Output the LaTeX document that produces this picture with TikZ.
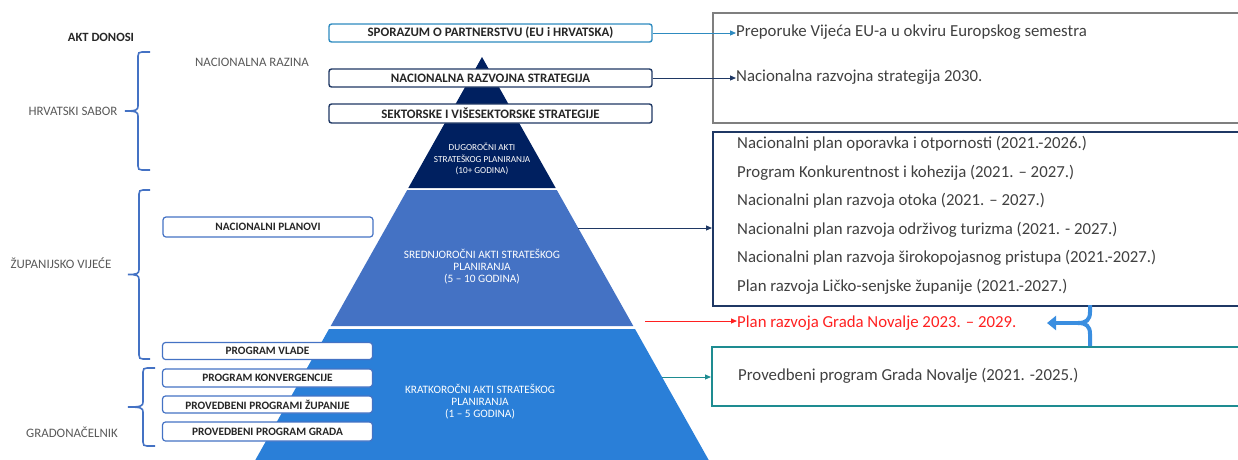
\documentclass[tikz,border=0pt]{standalone}
\usepackage{fontspec}
\setmainfont{Carlito}
\usetikzlibrary{arrows.meta}
\definecolor{tiertop}{HTML}{002060}
\definecolor{tiermid}{HTML}{4472C4}
\definecolor{tierbot}{HTML}{2A7FD8}
\definecolor{lblue}{HTML}{2E8BC0}
\definecolor{navyb}{HTML}{1F3864}
\definecolor{boxblue}{HTML}{4472C4}
\definecolor{grayb}{HTML}{7F7F7F}
\definecolor{tealb}{HTML}{1E8C91}
\definecolor{redt}{HTML}{FF2020}
\definecolor{curlyb}{HTML}{3A8EE0}
\definecolor{txt}{HTML}{404040}
\definecolor{lbl}{HTML}{595959}
% #1 end x, #2 vertical x, #3 tip x, #4 top y, #5 bottom y
\newcommand\drawbrace[5]{%
  \pgfmathsetmacro\bmid{(#4+#5)/2}%
  \draw[bracestyle] (#1,#4) -- ({#2+4},#4) .. controls ({#2+1},#4) and (#2,{#4+1}) .. (#2,{#4+4})
    -- (#2,{\bmid-5}) .. controls (#2,{\bmid-1}) and ({#2-2},\bmid) .. (#3,\bmid)
    .. controls ({#2-2},\bmid) and (#2,{\bmid+1}) .. (#2,{\bmid+5})
    -- (#2,{#5-4}) .. controls (#2,{#5-1}) and ({#2+1},#5) .. ({#2+4},#5) -- (#1,#5);}
\begin{document}
\begin{tikzpicture}[x=1pt,y=-1pt,
  topbox/.style={draw, rounded corners=2.5pt, fill=white, line width=1.4pt, minimum width=323pt, inner sep=0pt, text=black!85, font=\fontsize{12.9}{13}\selectfont\bfseries},
  leftbox/.style={draw=boxblue, rounded corners=3pt, fill=white, line width=1.2pt, minimum width=210pt, inner sep=0pt, text=black!85, font=\fontsize{11.3}{12}\selectfont\bfseries},
  sidelabel/.style={text=lbl, inner sep=0pt, font=\fontsize{12.9}{13}\selectfont},
  pyrtext/.style={text=white, align=center, inner sep=0pt},
  rtext/.style={anchor=west, text=txt, inner sep=0pt, font=\fontsize{16.8}{17}\selectfont},
  conn/.style={-{Triangle[length=6pt,width=5pt]}, line width=1pt},
  bracestyle/.style={draw=boxblue, line width=1.6pt},
  rbox/.style={draw, line width=1.8pt, anchor=north west, inner sep=0pt}
]
\useasboundingbox (0,0) rectangle (1238,459);
\clip (0,0) rectangle (1238,459);

% pyramid
\fill[tiertop] (482,57) -- (555.7,188) -- (408.3,188) -- cycle;
\fill[tiermid] (407.2,190) -- (556.8,190) -- (633.3,326) -- (330.7,326) -- cycle;
\fill[tierbot] (329,329) -- (635,329) -- (714.3,470) -- (249.7,470) -- cycle;
\coordinate (midR) at (578,228);
\coordinate (botR) at (662,377);
\coordinate (redS) at (645,321);

\node[pyrtext, font=\fontsize{9.2}{11.5}\selectfont] (ttop) at (482,159) {DUGOROČNI AKTI\\STRATEŠKOG PLANIRANJA\\(10+ GODINA)};
\node[pyrtext, font=\fontsize{11.3}{12}\selectfont] (tmid) at (482,267) {SREDNJOROČNI AKTI STRATEŠKOG\\PLANIRANJA\\(5 – 10 GODINA)};
\node[pyrtext, font=\fontsize{11.3}{12}\selectfont] (tbot) at (480,402) {KRATKOROČNI AKTI STRATEŠKOG\\PLANIRANJA\\(1 – 5 GODINA)};

% top boxes
\node[topbox, draw=lblue, minimum height=18pt] (spor) at (490.5,33) {SPORAZUM O PARTNERSTVU (EU i HRVATSKA)};
\node[topbox, draw=navyb, minimum height=18pt] (nrs) at (490.5,78) {NACIONALNA RAZVOJNA STRATEGIJA};
\node[topbox, draw=navyb, minimum height=19pt] (sek) at (490.5,113.5) {SEKTORSKE I VIŠESEKTORSKE STRATEGIJE};

% left boxes
\node[leftbox, minimum height=20pt] (np) at (268,227) {NACIONALNI PLANOVI};
\node[leftbox, minimum height=17pt] (pv) at (267.5,351) {PROGRAM VLADE};
\node[leftbox, minimum height=18pt] (pk) at (267.5,378) {PROGRAM KONVERGENCIJE};
\node[leftbox, minimum height=17pt] (ppz) at (267.5,404.5) {PROVEDBENI PROGRAMI ŽUPANIJE};
\node[leftbox, minimum height=19pt] (ppg) at (267.5,431.5) {PROVEDBENI PROGRAM GRADA};

% side labels
\node[sidelabel, text=black!85, font=\fontsize{12.6}{13}\selectfont\bfseries] (akt) at (101,37) {AKT DONOSI};
\node[sidelabel] (nr) at (252,62) {NACIONALNA RAZINA};
\node[sidelabel] (hs) at (73,111) {HRVATSKI SABOR};
\node[sidelabel] (zv) at (61,263) {ŽUPANIJSKO VIJEĆE};
\node[sidelabel] (gn) at (72,432) {GRADONAČELNIK};

% braces
\drawbrace{150}{138}{125}{52}{170}
\drawbrace{150}{139}{128}{190}{359}
\drawbrace{155}{143}{128}{368}{446}

% right boxes
\node[rbox, draw=grayb, minimum width=560pt, minimum height=110pt] (gbox) at (712,12) {};
\node[rbox, draw=navyb, minimum width=560pt, minimum height=174pt] (nbox) at (712,131) {};
\node[rbox, draw=tealb, minimum width=560pt, minimum height=59pt] (tbox) at (711,346) {};

% right texts
\node[rtext] (r1) at (736,32) {Preporuke Vijeća EU-a u okviru Europskog semestra};
\node[rtext] (r2) at (736,77) {Nacionalna razvojna strategija 2030.};
\node[rtext] (l1) at (737,144) {Nacionalni plan oporavka i otpornosti (2021.-2026.)};
\node[rtext] (l2) at (737,172.5) {Program Konkurentnost i kohezija (2021. – 2027.)};
\node[rtext] (l3) at (737,201) {Nacionalni plan razvoja otoka (2021. – 2027.)};
\node[rtext] (l4) at (737,229.5) {Nacionalni plan razvoja održivog turizma (2021. - 2027.)};
\node[rtext] (l5) at (737,258) {Nacionalni plan razvoja širokopojasnog pristupa (2021.-2027.)};
\node[rtext] (l6) at (737,287) {Plan razvoja Ličko-senjske županije (2021.-2027.)};
\node[rtext, text=redt] (red) at (737,323) {Plan razvoja Grada Novalje 2023. – 2029.};
\node[rtext] (pp) at (738,376) {Provedbeni program Grada Novalje (2021. -2025.)};

% connectors
\draw[conn, draw=lblue, fill=lblue] (spor.east) -- (spor.east -| r1.west);
\draw[conn, draw=navyb, fill=navyb] (nrs.east) -- (nrs.east -| r2.west);
\draw[conn, draw=navyb, fill=navyb] (midR) -- (midR -| nbox.west);
\draw[conn, draw=redt, fill=redt] (redS) -- (redS -| red.west);
\draw[conn, draw=tealb, fill=tealb] (botR) -- (botR -| tbox.west);

% curly arrow
\coordinate (cTop) at (1090,305);
\coordinate (cBot) at (1090,346);
\coordinate (cMid) at (1078,323);
\coordinate (cEnd) at (1047,323);
\draw[curlyb, line width=4pt] (cTop) -- (1090,312) .. controls (1090,320) and (1086,323) .. (cMid);
\draw[curlyb, line width=4pt] (cBot) -- (1090,334) .. controls (1090,326) and (1086,323) .. (cMid);
\draw[curlyb, line width=4pt, -{Triangle[length=9pt,width=14pt]}] (cMid) -- (cEnd);
\end{tikzpicture}
\end{document}
